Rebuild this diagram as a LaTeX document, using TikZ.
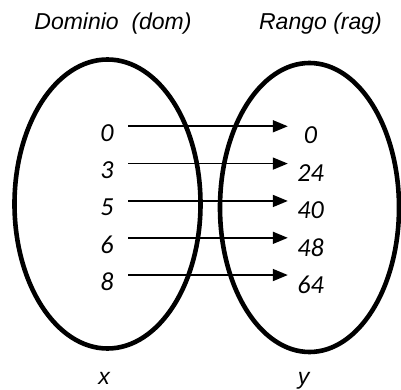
\documentclass[tikz,border=0pt]{standalone}
\usepackage{fontspec}
\setmainfont{Liberation Sans}
\newfontfamily\numfont{Carlito}
\usetikzlibrary{arrows.meta,shapes.geometric}

\begin{document}
\begin{tikzpicture}[x=1pt,y=-1pt,
conj/.style={draw,ellipse,line width=4.6pt,inner sep=0pt},
lab/.style={font=\fontsize{23}{27}\selectfont\itshape,anchor=base,inner sep=0pt},
num/.style={font=\numfont\fontsize{26}{30}\selectfont\itshape,inner sep=0pt},
img/.style={num,minimum width=27pt},
arr/.style={-{Triangle[length=15pt,width=12pt]},line width=1.6pt,shorten <=14.5pt,shorten >=9pt}]
\useasboundingbox (0,0) rectangle (401,390);
% the two sets
\node[conj,minimum width=186pt,minimum height=289pt] (dom) at (107.5,204) {};
\node[conj,minimum width=179pt,minimum height=289pt] (ran) at (309.5,207.5) {};
\node[lab] (tdom) at (113,30) {Dominio~~(dom)};
\node[lab] (tran) at (320.5,30) {Rango (rag)};
\node[lab] (vx) at (104,384) {x};
\node[lab] (vy) at (303.5,384) {y};
% pairs x -> y
\foreach \a/\b [count=\i from 0] in {0/0,3/24,5/40,6/48,8/64} {
  \node[num] (d\i) at (107,{133+37.3*\i}) {\a};
  \node[img] (r\i) at (310.5,{135.5+37.3*\i}) {\b};
  \draw[arr] ([yshift=-2pt]d\i.north east) -- ([yshift=-2pt]d\i.north east -| r\i.west);
}
\end{tikzpicture}
\end{document}
